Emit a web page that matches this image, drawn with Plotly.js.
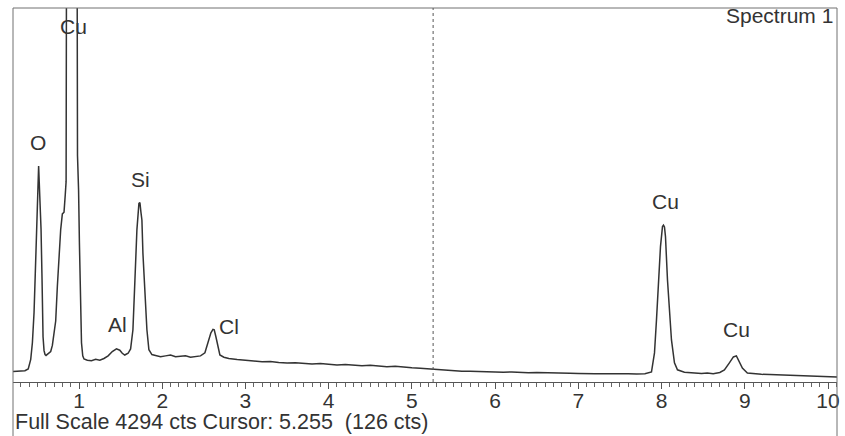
<!DOCTYPE html>
<html>
<head>
<meta charset="utf-8">
<script src="https://cdn.plot.ly/plotly-3.0.1.min.js"></script>
<style>html,body{margin:0;padding:0;background:#fff;}#chart{width:845px;height:436px;}</style>
</head>
<body>
<div id="chart"></div>
<script>
// Energy (keV) and counts (rows paired line by line)
const energy = [
  0.207,0.25,0.30,0.35,0.39,0.42,0.44,0.46,0.475,0.49,
  0.500,0.508,0.515,0.522,0.532,0.544,0.556,0.568,0.58,0.592,
  0.604,0.62,0.64,0.66,0.68,0.70,0.72,0.74,0.76,0.78,
  0.80,0.82,0.835,0.845,0.852,0.975,0.982,0.995,1.005,1.015,
  1.03,1.045,1.06,1.10,1.15,1.20,1.25,1.30,1.35,1.40,
  1.45,1.49,1.52,1.55,1.59,1.62,1.648,1.672,1.696,1.72,
  1.732,1.744,1.756,1.768,1.792,1.816,1.84,1.876,1.92,1.98,
  2.04,2.10,2.16,2.22,2.28,2.34,2.40,2.46,2.513,2.549,
  2.585,2.61,2.625,2.645,2.669,2.693,2.741,
  2.8,2.9,3.0,3.1,3.2,3.3,3.4,3.5,3.6,3.7,
  3.8,3.9,4.0,4.1,4.2,4.3,4.4,4.5,4.6,4.7,
  4.8,4.9,5.0,5.1,5.2,5.3,5.4,5.5,5.6,5.7,
  5.8,5.9,6.0,6.1,6.2,6.3,6.4,6.5,6.6,6.7,
  6.8,6.9,7.0,7.1,7.2,7.3,7.4,7.5,7.6,7.7,
  7.8,7.879,7.915,7.939,7.963,7.987,8.011,8.023,8.035,8.047,
  8.071,8.095,8.119,8.155,8.191,8.275,8.33,8.40,8.48,8.55,
  8.62,8.70,8.755,8.815,8.863,8.899,8.935,8.971,9.031,9.115,
  9.20,9.30,9.40,9.50,9.60,9.70,9.80,9.90,10.0,10.108
];
const counts = [
  120,125,128,130,150,260,450,800,1250,1800,
  2150,2470,2480,2300,2050,1750,1170,520,360,315,
  305,320,340,350,420,560,700,1100,1450,1750,
  1930,1950,2150,2300,6000,6000,2600,2200,1600,900,
  450,300,265,250,245,260,250,270,300,350,
  380,365,330,310,330,380,600,1170,1750,2050,
  2060,1950,1860,1480,980,600,370,315,305,290,
  300,310,290,295,300,285,290,300,335,450,
  565,605,600,520,400,310,285,
  270,258,246,240,232,236,224,218,222,210,
  206,212,200,196,202,190,186,192,180,176,
  182,170,164,158,150,140,132,128,124,122,
  118,120,114,112,116,110,106,108,104,102,
  104,100,98,100,96,94,96,92,94,92,
  96,115,334,714,1174,1554,1784,1800,1780,1670,
  1174,794,483,220,140,112,106,104,98,102,
  96,110,138,220,288,300,230,160,104,92,
  88,85,82,80,76,72,66,62,60,58
];

// Peak labels
const peakLabels = ['O','Cu','Si','Al','Cl','Cu','Cu'];
const peakLabelX = [0.508,0.928,1.744,1.468,2.80,8.047,8.899];
const peakLabelY = [2751,4086,2325,656,633,2072,598];

const tickVals = [1,2,3,4,5,6,7,8,9,10];
const fullScale = 4294;
const cursorKeV = 5.255;
const cursorCounts = 126;
const spectrumName = 'Spectrum 1';

const W = 845, H = 436, mL = 13, mR = 8, mT = 8, mB = 54;
const plotH = H - mT - mB;
const ink = '#333333';
const frame = '#707070';
const font = 'Liberation Sans, Arial, sans-serif';
const fs = 21;

const annotations = peakLabels.map((t, i) => ({
  text: t, x: peakLabelX[i], y: peakLabelY[i], xref: 'x', yref: 'y',
  showarrow: false, xanchor: 'center', yanchor: 'middle',
  font: {family: font, size: fs, color: '#333'}
}));
annotations.push({
  text: 'Full Scale ' + fullScale + ' cts Cursor: ' + cursorKeV.toFixed(3) + '\u00a0\u00a0(' + cursorCounts + ' cts)',
  x: 0, y: -(422 - (H - mB)) / plotH, xref: 'paper', yref: 'paper', xshift: 0,
  showarrow: false, xanchor: 'left', yanchor: 'middle',
  font: {family: font, size: 21.5, color: '#333'}
});
annotations.push({
  text: spectrumName, x: 1, y: ((H - mB) - 16) / plotH, xref: 'paper', yref: 'paper', xshift: -2,
  showarrow: false, xanchor: 'right', yanchor: 'middle',
  font: {family: font, size: fs, color: '#333'}
});

const yBottom = -mB / plotH - 0.01;
const shapes = [
  {type: 'line', xref: 'paper', yref: 'paper', x0: 0, x1: 0, y0: yBottom, y1: 1, line: {color: frame, width: 1}},
  {type: 'line', xref: 'paper', yref: 'paper', x0: 1, x1: 1, y0: yBottom, y1: 1, line: {color: frame, width: 1}},
  {type: 'line', xref: 'paper', yref: 'paper', x0: 0, x1: 1, y0: 1, y1: 1, line: {color: frame, width: 1}},
  {type: 'line', xref: 'x', yref: 'paper', x0: cursorKeV, x1: cursorKeV, y0: 0, y1: 1, line: {color: '#555', width: 1, dash: 'dot'}}
];

const trace = {
  x: energy, y: counts, type: 'scatter', mode: 'lines',
  line: {color: ink, width: 1.5}, hoverinfo: 'skip'
};

const layout = {
  width: W, height: H,
  margin: {l: mL, r: mR, t: mT, b: mB, pad: 0},
  paper_bgcolor: '#fff', plot_bgcolor: '#fff',
  showlegend: false,
  xaxis: {
    range: [0.207, 10.108], tickvals: tickVals, ticktext: tickVals.map(String),
    ticks: 'outside', ticklen: 6, tickwidth: 1, tickcolor: '#555',
    ticklabelstandoff: -6,
    minor: {dtick: 0.1, tick0: 0, ticks: 'outside', ticklen: 4, tickwidth: 1, tickcolor: '#666', showgrid: false},
    showline: true, linecolor: '#555', linewidth: 1,
    showgrid: false, zeroline: false, fixedrange: true,
    tickfont: {family: font, size: fs, color: '#333'}
  },
  yaxis: {
    range: [0, fullScale], showticklabels: false, ticks: '', showgrid: false,
    zeroline: false, showline: false, fixedrange: true
  },
  annotations: annotations,
  shapes: shapes
};

Plotly.newPlot('chart', [trace], layout, {staticPlot: true, displayModeBar: false});
</script>
</body>
</html>
